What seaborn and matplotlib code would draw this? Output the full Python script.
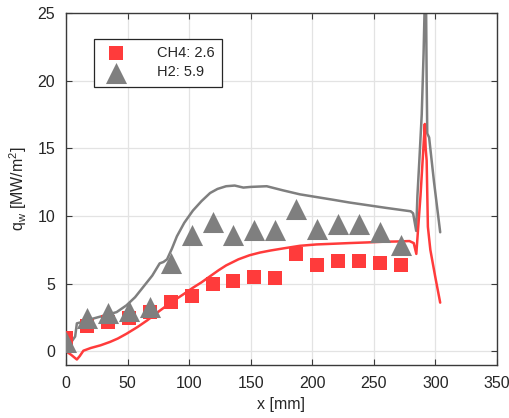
import matplotlib
matplotlib.use("Agg")
import matplotlib.pyplot as plt
import seaborn as sns

# measured heat flux (markers)
x_meas = [0, 17, 34, 51, 68, 85, 102, 119, 136, 153, 170, 187, 204, 221, 238, 255, 272]
ch4_meas = [1.0, 1.9, 2.2, 2.5, 2.9, 3.65, 4.07, 4.96, 5.2, 5.5, 5.4, 7.2, 6.4, 6.65, 6.65, 6.55, 6.35]
h2_meas = [0.7, 2.5, 2.8, 3.0, 3.3, 6.5, 8.6, 9.55, 8.6, 8.95, 8.95, 10.5, 9.07, 9.4, 9.4, 8.8, 7.85]

# simulated heat flux (lines)
x_h2_sim = [0, 2, 5, 7.3, 8.7, 12, 17, 25, 35, 41, 49, 56, 63, 70, 76, 79, 82, 86, 90, 96, 103, 110, 117,
            123, 130, 137, 144, 150, 163, 176, 190, 203.5, 217, 230, 245, 260, 272, 280, 282, 284.5,
            285.5, 287, 289, 290.5, 291.5, 292.5, 293, 293.5, 295, 299, 304]
y_h2_sim = [0.3, 0.4, 0.8, 1.1, 2.07, 2.15, 2.3, 2.5, 2.75, 2.9, 3.4, 4.0, 4.8, 5.6, 6.5, 6.6, 6.8, 7.6,
            8.5, 9.5, 10.4, 11.1, 11.7, 12.0, 12.2, 12.25, 12.1, 12.15, 12.2, 11.9, 11.6, 11.4, 11.2,
            11.0, 10.8, 10.6, 10.45, 10.35, 10.2, 8.9, 11.5, 14.0, 17.5, 22.0, 26.0, 26.0, 20.0, 16.1,
            15.8, 12.5, 8.8]
x_ch4_sim = [0, 4, 8.7, 11, 14, 20, 28, 35.7, 42, 49, 58, 66, 76, 85, 95, 103, 110, 117, 124, 130, 140,
             149, 157.5, 166, 176, 190, 203.5, 217, 230, 245, 257.6, 270, 279, 282.5, 284.6, 286, 288,
             290, 291.5, 292.2, 293, 294, 296, 300, 304]
y_ch4_sim = [0.0, -0.25, -0.6, -0.35, 0.05, 0.25, 0.45, 0.7, 0.95, 1.3, 1.8, 2.3, 3.0, 3.6, 4.2, 4.7,
             5.1, 5.55, 6.0, 6.35, 6.8, 7.1, 7.3, 7.45, 7.6, 7.8, 7.9, 7.95, 8.0, 8.05, 8.1, 8.12, 8.15,
             8.0, 7.2, 9.0, 11.5, 14.5, 16.8, 15.0, 14.1, 9.2, 7.5, 5.5, 3.6]

red = "#ff3b3b"
grey = "#7f7f7f"

sns.set_style("ticks")
plt.rcParams["font.family"] = ["Liberation Sans", "DejaVu Sans"]
plt.rcParams["mathtext.fontset"] = "custom"
plt.rcParams["mathtext.rm"] = "Liberation Sans"
plt.rcParams["mathtext.it"] = "Liberation Sans"

fig = plt.figure(figsize=(5.09, 4.18), dpi=100)
ax = fig.add_axes([0.130, 0.127, 0.846, 0.842])

sns.lineplot(x=x_h2_sim, y=y_h2_sim, color=grey, lw=1.8, sort=False, estimator=None, ax=ax)
sns.lineplot(x=x_ch4_sim, y=y_ch4_sim, color=red, lw=1.8, sort=False, estimator=None, ax=ax)
sns.scatterplot(x=x_meas, y=ch4_meas, marker="s", s=100, color=red, linewidth=0,
                label="CH4: 2.6", ax=ax, zorder=3)
sns.scatterplot(x=x_meas, y=h2_meas, marker="^", s=230, color=grey, linewidth=0,
                label="H2: 5.9", ax=ax, zorder=4)

ax.set_xlim(0, 350)
ax.set_ylim(-1, 25)
ax.set_xticks(range(0, 351, 50))
ax.set_yticks(range(0, 26, 5))
ax.grid(True, color="#e3e3e3", lw=0.9)
ax.set_axisbelow(True)
for sp in ax.spines.values():
    sp.set_color("#3a3a3a")
    sp.set_linewidth(1.0)
    sp.set_visible(True)
ax.tick_params(direction="in", top=True, right=True, length=4, width=0.8,
               labelsize=11.5, colors="#3a3a3a", labelcolor="#262626", pad=8)

ax.set_xlabel("x [mm]", fontsize=11.5, color="#262626", labelpad=4)
ax.set_ylabel("q$_w$ [MW/m$^2$]", fontsize=11.5, color="#262626", labelpad=6)

leg = ax.legend(loc="upper left", bbox_to_anchor=(0.065, 0.926), fontsize=10.5,
                frameon=True, fancybox=False, edgecolor="#262626", framealpha=1,
                handletextpad=1.8, borderpad=0.5, labelspacing=0.35, borderaxespad=0)
leg.get_frame().set_linewidth(0.9)

fig.savefig("out.png", dpi=100)
